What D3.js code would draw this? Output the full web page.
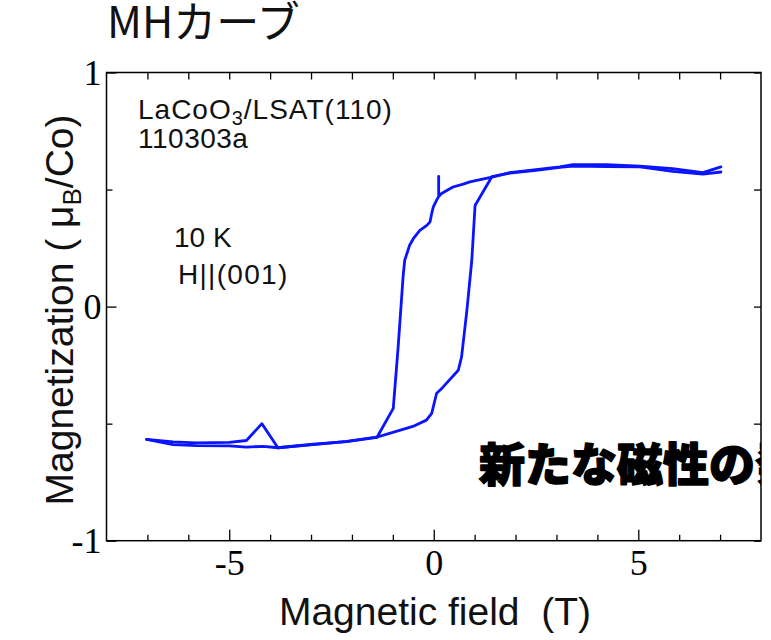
<!DOCTYPE html>
<html>
<head>
<meta charset="utf-8">
<script src="https://cdn.jsdelivr.net/npm/d3@7"></script>
<style>
  html, body { margin: 0; padding: 0; background: #fff; }
  svg { display: block; }
</style>
</head>
<body>
<svg id="chart" width="771" height="640"></svg>
<script>
// Field sweep 7 T -> -7 T (descending branch)
const downField = [7.02, 6.58, 5.84, 5.04, 4.23, 3.40, 3.08, 2.50, 1.86, 1.45, 0.88, 0.72, 0.47, 0.19, 0.12, 0.12, 0.12, 0.07, -0.01, -0.05, -0.09, -0.17, -0.34, -0.50, -0.59, -0.71, -0.75, -0.79, -0.87, -0.99, -1.39, -2.13, -2.95, -3.81, -4.20, -4.58, -5.00, -5.80, -6.37, -7.02];
const downM     = [0.597, 0.572, 0.589, 0.600, 0.606, 0.606, 0.597, 0.585, 0.572, 0.554, 0.533, 0.523, 0.511, 0.483, 0.470, 0.556, 0.470, 0.455, 0.426, 0.398, 0.362, 0.347, 0.326, 0.290, 0.262, 0.198, 0.127, 0.027, -0.172, -0.435, -0.559, -0.577, -0.588, -0.603, -0.500, -0.572, -0.580, -0.582, -0.578, -0.567];

// Field sweep -7 T -> 7 T (ascending branch)
const upField = [-7.02, -6.37, -5.80, -5.00, -4.58, -4.17, -3.81, -2.95, -2.13, -1.40, -1.00, -0.51, -0.18, -0.05, 0.07, 0.15, 0.23, 0.60, 0.68, 0.81, 0.93, 1.01, 1.42, 1.86, 2.50, 3.08, 3.40, 4.23, 5.04, 5.84, 6.58, 7.02];
const upM     = [-0.567, -0.590, -0.594, -0.595, -0.600, -0.597, -0.603, -0.590, -0.576, -0.558, -0.537, -0.512, -0.485, -0.456, -0.370, -0.357, -0.343, -0.272, -0.215, -0.016, 0.198, 0.432, 0.555, 0.570, 0.582, 0.595, 0.600, 0.598, 0.597, 0.578, 0.566, 0.575];

// Axis ticks
const xMajorTicks = [-5, 0, 5];
const xMinorTicks = [-7, -6, -4, -3, -2, -1, 1, 2, 3, 4, 6, 7];
const yMajorTicks = [-1, 0, 1];
const yMinorTicks = [-0.5, 0.5];

const svg = d3.select("#chart");
const plotL = 106.5, plotR = 761, plotT = 72.5, plotB = 540.7;

const x = d3.scaleLinear().domain([-8, 8]).range([plotL, plotR]);
const y = d3.scaleLinear().domain([-1, 1]).range([plotB, plotT]);

const serif = "'Liberation Serif', 'Times New Roman', serif";
const sans = "'Liberation Sans', Arial, Helvetica, sans-serif";
const jp = "'Noto Sans CJK JP', 'Noto Sans CJK SC', sans-serif";
const plainNumber = d => String(d);

svg.append("defs").append("clipPath").attr("id", "plotClip")
  .append("rect").attr("x", plotL).attr("y", plotT)
  .attr("width", plotR - plotL).attr("height", plotB - plotT);

// Title
svg.append("text")
  .attr("x", 107).attr("y", 38)
  .attr("font-family", jp).attr("font-size", 43).attr("fill", "#111")
  .text("MHカーブ");

// Ticks pointing inward on all four sides
function styleAxis(g, fontSize) {
  g.select(".domain").remove();
  g.selectAll("line").attr("stroke", "#000").attr("stroke-width", 1.3);
  g.selectAll("text").attr("font-family", serif).attr("font-size", fontSize).attr("fill", "#000");
}

svg.append("g").attr("transform", `translate(0,${plotB})`)
  .call(d3.axisBottom(x).tickValues(xMajorTicks).tickSizeInner(-11).tickSizeOuter(0).tickPadding(9).tickFormat(plainNumber))
  .call(g => styleAxis(g, 36));
svg.append("g").attr("transform", `translate(0,${plotB})`)
  .call(d3.axisBottom(x).tickValues(xMinorTicks).tickSizeInner(-6).tickSizeOuter(0).tickFormat(""))
  .call(g => styleAxis(g, 36));
svg.append("g").attr("transform", `translate(0,${plotT})`)
  .call(d3.axisTop(x).tickValues(xMajorTicks.concat(xMinorTicks)).tickSizeInner(-7).tickSizeOuter(0).tickFormat(""))
  .call(g => styleAxis(g, 36));

svg.append("g").attr("transform", `translate(${plotL},0)`)
  .call(d3.axisLeft(y).tickValues(yMajorTicks).tickSizeInner(-10).tickSizeOuter(0).tickPadding(5).tickFormat(plainNumber))
  .call(g => styleAxis(g, 36));
svg.append("g").attr("transform", `translate(${plotL},0)`)
  .call(d3.axisLeft(y).tickValues(yMinorTicks).tickSizeInner(-6).tickSizeOuter(0).tickFormat(""))
  .call(g => styleAxis(g, 36));
svg.append("g").attr("transform", `translate(${plotR},0)`)
  .call(d3.axisRight(y).tickValues(yMajorTicks.concat(yMinorTicks)).tickSizeInner(-7).tickSizeOuter(0).tickFormat(""))
  .call(g => styleAxis(g, 36));

// Frame
svg.append("rect")
  .attr("x", plotL).attr("y", plotT)
  .attr("width", plotR - plotL).attr("height", plotB - plotT)
  .attr("fill", "none").attr("stroke", "#000").attr("stroke-width", 1.5);

// Hysteresis loop
const line = d3.line().x(d => x(d[0])).y(d => y(d[1]));
const branches = [d3.zip(downField, downM), d3.zip(upField, upM)];
svg.append("g").attr("clip-path", "url(#plotClip)")
  .selectAll("path").data(branches).join("path")
  .attr("d", line)
  .attr("fill", "none").attr("stroke", "#0a14ff")
  .attr("stroke-width", 2.8).attr("stroke-linejoin", "round").attr("stroke-linecap", "round");

// Sample annotations
const note = svg.append("g").attr("font-family", sans).attr("font-size", 28).attr("fill", "#111");
const t1 = note.append("text").attr("x", 138).attr("y", 119).attr("letter-spacing", 1);
t1.append("tspan").text("LaCoO");
t1.append("tspan").attr("font-size", 20).attr("dy", 6).text("3");
t1.append("tspan").attr("dy", -6).text("/LSAT(110)");
note.append("text").attr("x", 138).attr("y", 148).attr("letter-spacing", 0.5).text("110303a");
note.append("text").attr("x", 174).attr("y", 247).text("10 K");
note.append("text").attr("x", 178).attr("y", 284).attr("letter-spacing", 1.3).text("H||(001)");

// Axis titles
svg.append("text")
  .attr("x", 435).attr("y", 625).attr("text-anchor", "middle")
  .attr("font-family", sans).attr("font-size", 39).attr("fill", "#111")
  .attr("xml:space", "preserve")
  .text("Magnetic field  (T)");

const yt = svg.append("text")
  .attr("transform", "translate(73,310) rotate(-90)")
  .attr("text-anchor", "middle")
  .attr("font-family", sans).attr("font-size", 39).attr("fill", "#111");
yt.append("tspan").text("Magnetization ( μ");
yt.append("tspan").attr("font-size", 26).attr("dy", 8).text("B");
yt.append("tspan").attr("dy", -8).text("/Co)");

// Bold caption across the plot
svg.append("g").attr("clip-path", "url(#plotClip)")
  .append("text")
  .attr("x", 479).attr("y", 481)
  .attr("font-family", jp).attr("font-weight", 900).attr("font-size", 46)
  .attr("fill", "#000").attr("stroke", "#000").attr("stroke-width", 1.5).attr("stroke-linejoin", "round")
  .text("新たな磁性の発見");
</script>
</body>
</html>
